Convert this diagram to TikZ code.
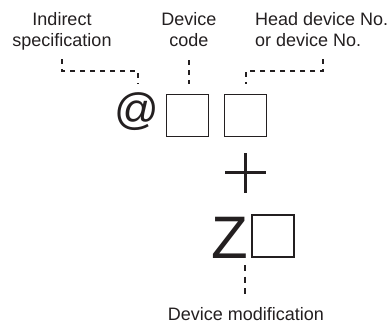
\documentclass[tikz,border=0pt]{standalone}
\usepackage{fontspec}
\setmainfont{Liberation Sans}
\definecolor{txt}{HTML}{231F20}
\begin{document}
\begin{tikzpicture}[x=1pt,y=-1pt,
  lbl/.style={inner sep=0pt,text=txt,font=\fontsize{18}{21}\selectfont},
  cell/.style={draw=txt,line width=1.6pt,minimum width=42pt,minimum height=42pt,inner sep=0pt},
  conn/.style={draw=txt,line width=2pt,dash pattern=on 5pt off 5pt},
  plusline/.style={draw=txt,line width=2.4pt}]
\useasboundingbox (0,0) rectangle (392,327);
% labels (base anchor = baseline of last line)
\node[lbl,align=center,anchor=base] (ind) at (62,46) {Indirect\\specification};
\node[lbl,align=center,anchor=base] (dev) at (189,46) {Device\\code};
\node[lbl,align=left,anchor=base west] (head) at (255,46) {Head device No.\\or device No.};
% symbols
\node[inner sep=0pt,text=txt,font=\fontsize{44}{44}\selectfont,anchor=base] (at) at (137,124) {@};
\node[cell] (b1) at (187.5,115.5) {};
\node[cell] (b2) at (245.5,115.5) {};
\node[inner sep=0pt,text=txt,font=\fontsize{60}{60}\selectfont,anchor=base] (z) at (230,258) {Z};
\node[cell] (b3) at (273,236) {};
\node[lbl,anchor=base] (mod) at (246,320) {Device modification};
% plus
\coordinate (pc) at (245.5,172.5);
\draw[plusline] ([xshift=-20.5pt]pc) -- ([xshift=20.5pt]pc);
\draw[plusline] ([yshift=-20pt]pc) -- ([yshift=20pt]pc);
% connector end points
\coordinate (c1a) at (62,59);
\coordinate (c1b) at (138,84);
\coordinate (c2a) at (189,60);
\coordinate (c2b) at (189,84);
\coordinate (c3a) at (323,59);
\coordinate (c3b) at (246,84);
\coordinate (c4a) at (245,265);
\coordinate (c4b) at (245,294);
\draw[conn] (c1a) -- (62,71) -| (c1b);
\draw[conn] (c2a) -- (c2b);
\draw[conn] (c3a) -- (323,71) -| (c3b);
\draw[conn,dash pattern=on 6pt off 5.5pt] (c4a) -- (c4b);
\end{tikzpicture}
\end{document}
